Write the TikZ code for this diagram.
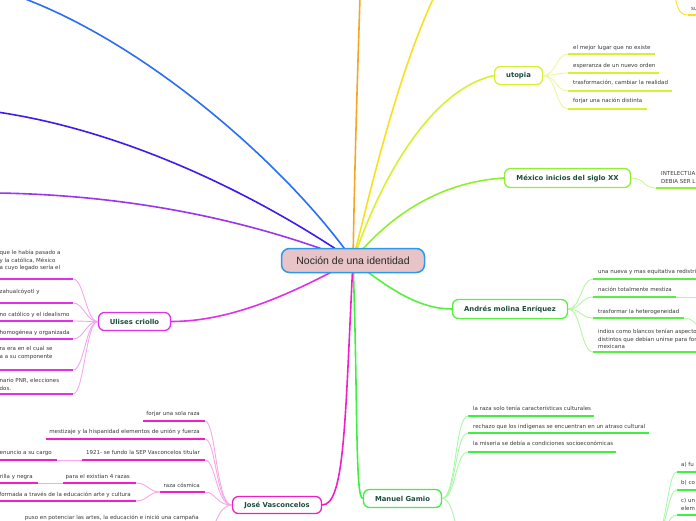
\documentclass[tikz,border=0pt]{standalone}
\usepackage{fontspec}
\setmainfont{DejaVu Sans}
\newfontfamily\titlefont{Liberation Sans}
\usetikzlibrary{backgrounds}
\definecolor{cUl}{HTML}{E030E8}
\definecolor{cUlc}{HTML}{F0A8F0}
\definecolor{cJo}{HTML}{F020C8}
\definecolor{cJoc}{HTML}{F8A8E4}
\definecolor{cMa}{HTML}{40F040}
\definecolor{cMac}{HTML}{A8F8A8}
\definecolor{cAn}{HTML}{58F040}
\definecolor{cAnc}{HTML}{B0F8A0}
\definecolor{cMx}{HTML}{90F030}
\definecolor{cMxc}{HTML}{C8F8A0}
\definecolor{cUt}{HTML}{D8F030}
\definecolor{cUtc}{HTML}{E8F8A0}
\definecolor{cYe}{HTML}{F8E020}
\definecolor{cOr}{HTML}{F5A623}
\definecolor{cBl}{HTML}{2B6DF5}
\definecolor{cIn}{HTML}{3C1CF0}
\definecolor{cPu}{HTML}{9A35F0}
\definecolor{lab}{HTML}{1D4D3D}
\definecolor{txt}{HTML}{383838}
\definecolor{cfill}{HTML}{E8C4C8}
\definecolor{cbord}{HTML}{2A9BE8}
\begin{document}
\begin{tikzpicture}[x=1pt,y=-1pt,
  lt/.style={anchor=north west, inner sep=0pt, align=left, text=txt,
    font=\fontsize{5.5}{7.5}\selectfont, execute at begin node=\strut},
  rt/.style={lt, anchor=north east, align=right},
  topic/.style={draw, fill=white, rounded corners=6pt, line width=1.3pt,
    font=\fontsize{6.85}{8}\selectfont\bfseries, text=lab, inner sep=0pt},
  hub/.style={draw=cbord, fill=cfill, line width=1.5pt, rounded corners=8pt,
    minimum width=143pt, minimum height=24pt, inner sep=0pt,
    font=\titlefont\fontsize{10.5}{12}\selectfont, text=black!85},
  ul/.style={line width=1.8pt},
  con/.style={line width=0.9pt},
  branch/.style={line width=1.6pt}]
\useasboundingbox (0,0) rectangle (696,520);
\clip (0,0) rectangle (696,520);

% ---------- hub and topics ----------
\node[hub] (c) at (353,260.5) {Noción de una identidad};
\node[topic, draw=cUl, minimum width=72pt, minimum height=18pt] (u) at (134.5,321.5) {Ulises criollo};
\node[topic, draw=cJo, minimum width=89pt, minimum height=17pt] (j) at (277,505) {José Vasconcelos};
\node[topic, draw=cMa, minimum width=78pt, minimum height=18pt] (m) at (402.5,498.5) {Manuel Gamio};
\node[topic, draw=cAn, minimum width=115pt, minimum height=19pt] (a) at (510,309) {Andrés molina Enríquez};
\node[topic, draw=cMx, minimum width=126pt, minimum height=19pt] (x) at (567.5,178) {México inicios del siglo XX};
\node[topic, draw=cUt, minimum width=48pt, minimum height=18pt] (t) at (518.5,75.5) {utopia};

% free ends of branches leaving the picture
\coordinate (eBl) at (20,-3);
\coordinate (eIn) at (-3,112);
\coordinate (ePu) at (-3,193);
\coordinate (eOr) at (360,-3);
\coordinate (eYe) at (434,-3);

\begin{scope}[on background layer]
\draw[branch, cBl] (c.center) .. controls (290,170) and (150,45) .. (eBl);
\draw[branch, cIn] (c.center) .. controls (250,190) and (120,130) .. (eIn);
\draw[branch, cPu] (c.center) .. controls (250,220) and (130,195) .. (ePu);
\draw[branch, cOr] (c.center) .. controls (355,150) and (358,60) .. (eOr);
\draw[branch, cYe] (c.center) .. controls (375,170) and (400,70) .. (eYe);
\draw[branch, cUt] (c.center) .. controls (380,180) and (430,90) .. (t.west);
\draw[branch, cMx] (c.center) .. controls (390,215) and (440,182) .. (x.west);
\draw[branch, cAn] (c.center) .. controls (390,290) and (420,309) .. (a.west);
\draw[branch, cMa] (c.center) .. controls (358,400) and (355,499) .. (m.west);
\draw[branch, cJo] (c.center) .. controls (345,420) and (345,505) .. (j.east);
\draw[branch, cUl] (c.center) .. controls (290,295) and (230,321.5) .. (u.east);
\end{scope}

% ---------- top right fragment ----------
\coordinate (ys1) at (675,-3);
\coordinate (ys2) at (688,15);
\draw[con, cYe] (ys1) .. controls (678,10) and (680,15) .. (ys2);
\draw[ul, cYe] (ys2) -- (700,15);
\node[lt] (y1) at (691,5.3) {su};

% ---------- utopia ----------
\node[lt] (t1) at (573,44.3) {el mejor lugar que no existe};
\node[lt] (t2) at (573,62.3) {esperanza de un nuevo orden};
\node[lt] (t3) at (573,79.3) {trasformación, cambiar la realidad};
\node[lt] (t4) at (573,97.3) {forjar una nación distinta};
\coordinate (t1s) at (568,54);  \draw[ul, cUt] (t1s) -- (655,54);
\coordinate (t2s) at (568,73);  \draw[ul, cUt] (t2s) -- (659,73);
\coordinate (t3s) at (568,91);  \draw[ul, cUt] (t3s) -- (672,91);
\coordinate (t4s) at (568,109); \draw[ul, cUt] (t4s) -- (647,109);
\foreach \k/\yy in {t1s/54, t2s/73, t3s/91, t4s/109}
  \draw[con, cUtc] (t.east) .. controls (556,75.5) and (556,\yy) .. (\k);

% ---------- México inicios ----------
\node[lt] (x1) at (661,171.3) {INTELECTUA\\DEBIA SER L};
\coordinate (x1s) at (656,188); \draw[ul, cMx] (x1s) -- (700,188);
\draw[con, cMxc] (x.east) .. controls (645,178) and (643,188) .. (x1s);

% ---------- Andrés molina Enríquez ----------
\node[lt] (a1) at (598,268.3) {una nueva y mas equitativa redistri};
\node[lt] (a2) at (598,286.3) {nación totalmente mestiza};
\node[lt] (a3) at (598,308.3) {trasformar la heterogeneidad};
\node[lt] (a4) at (598,329.3) {indios como blancos tenían aspectos\\distintos que debían unirse para for\\mexicana};
\coordinate (a1s) at (593,279); \draw[ul, cAn] (a1s) -- (700,279);
\coordinate (a2s) at (593,297); \coordinate (a2e) at (676,297); \draw[ul, cAn] (a2s) -- (a2e);
\coordinate (a3s) at (593,318); \coordinate (a3e) at (684,318); \draw[ul, cAn] (a3s) -- (a3e);
\coordinate (a4s) at (593,352); \draw[ul, cAn] (a4s) -- (700,352);
\foreach \k/\yy in {a1s/279, a2s/297, a3s/318, a4s/352}
  \draw[con, cAnc] (a.east) .. controls (581,309) and (581,\yy) .. (\k);
\coordinate (a2x) at (702,297);
\coordinate (a3x) at (704,330);
\draw[con, cAnc] (a2e) -- (a2x);
\draw[con, cAnc] (a3e) .. controls (692,318) and (694,323) .. (a3x);

% ---------- Manuel Gamio ----------
\node[lt] (m1) at (473,405.3) {la raza solo tenía características culturales};
\node[lt] (m2) at (473,423.3) {rechazo que los indígenas se encuentran en un atraso cultural};
\node[lt] (m3) at (473,440.3) {la miseria se debía a condiciones socioeconómicas};
\coordinate (m1s) at (468,416); \draw[ul, cMa] (m1s) -- (594,416);
\coordinate (m2s) at (468,433); \draw[ul, cMa] (m2s) -- (649,433);
\coordinate (m3s) at (468,452); \draw[ul, cMa] (m3s) -- (616,452);
\coordinate (m4s) at (470,548);
\foreach \k/\yy in {m1s/416, m2s/433, m3s/452, m4s/548}
  \draw[con, cMac] (m.east) .. controls (456,498.5) and (455,\yy) .. (\k);

% ---------- bottom right fragment ----------
\coordinate (bp) at (655,535);
\node[lt] (b1) at (681,461.3) {a) fu};
\node[lt] (b2) at (681,479.3) {b) co};
\node[lt] (b3) at (681,498.3) {c) un\\elem};
\coordinate (b1s) at (677,472); \draw[ul, cMa] (b1s) -- (700,472);
\coordinate (b2s) at (677,490); \draw[ul, cMa] (b2s) -- (700,490);
\coordinate (b3s) at (677,515); \draw[ul, cMa] (b3s) -- (700,515);
\foreach \k/\yy in {b1s/472, b2s/490, b3s/515}
  \draw[con, cMac] (bp) .. controls (667,535) and (667,\yy) .. (\k);

% ---------- Ulises criollo ----------
\node[lt] (u1) at (-0.5,250.3) {que le había pasado a\\y la católica, México\\a cuyo legado sería el};
\node[lt] (u2) at (-0.5,288.3) {zahualcóyotl y};
\node[lt] (u3) at (-0.5,311.3) {no católico y el idealismo};
\node[lt] (u4) at (-0.5,329.3) {homogénea y organizada};
\node[lt] (u5) at (-0.5,346.3) {ra era en el cual se\\a a su componente};
\node[lt] (u6) at (-0.5,378.3) {nario PNR, elecciones\\dos.};
\coordinate (u1e) at (73,279); \draw[ul, cUl] (-3,279) -- (u1e);
\coordinate (u2e) at (73,303); \draw[ul, cUl] (-3,303) -- (u2e);
\coordinate (u3e) at (73,321); \draw[ul, cUl] (-3,321) -- (u3e);
\coordinate (u4e) at (73,339); \draw[ul, cUl] (-3,339) -- (u4e);
\coordinate (u5e) at (73,370); \draw[ul, cUl] (-3,370) -- (u5e);
\coordinate (u6e) at (73,394); \draw[ul, cUl] (-3,394) -- (u6e);
\foreach \k/\yy in {u1e/279, u2e/303, u3e/321, u4e/339, u5e/370, u6e/394}
  \draw[con, cUlc] (u.west) .. controls (86,321.5) and (84,\yy) .. (\k);

% ---------- José Vasconcelos ----------
\node[rt] (j1) at (200,410.3) {forjar una sola raza};
\node[rt] (j2) at (200,428.3) {mestizaje y la hispanidad elementos de unión y fuerza};
\node[rt] (j3) at (200,449.3) {1921- se fundo la SEP Vasconcelos titular};
\node[rt] (j4) at (200,482.3) {raza cósmica};
\node[rt] (j5) at (199,514.3) {puso en potenciar las artes, la educación e inició una campaña};
\coordinate (j1e) at (205,421); \coordinate (j1s) at (143,421); \draw[ul, cJo] (j1s) -- (j1e);
\coordinate (j2e) at (205,439); \coordinate (j2s) at (46,439);  \draw[ul, cJo] (j2s) -- (j2e);
\coordinate (j3e) at (205,460); \coordinate (j3s) at (82,460);  \draw[ul, cJo] (j3s) -- (j3e);
\coordinate (j4e) at (205,492); \coordinate (j4s) at (160,492); \draw[ul, cJo] (j4s) -- (j4e);
\coordinate (j5e) at (205,534); \draw[ul, cJo] (20,534) -- (j5e);
\foreach \k/\yy in {j1e/421, j2e/439, j3e/460, j4e/492, j5e/534}
  \draw[con, cJoc] (j.west) .. controls (216,505) and (216,\yy) .. (\k);
% sub-leaves
\node[rt] (j3a) at (52,449.3) {enuncio a su cargo};
\coordinate (j3ae) at (57,460); \draw[ul, cJo] (-3,460) -- (j3ae);
\draw[con, cJoc] (j3s) -- (j3ae);
\node[rt] (j4a) at (130,473.3) {para el existían 4 razas};
\coordinate (j4ae) at (136,483); \coordinate (j4as) at (63,483); \draw[ul, cJo] (j4as) -- (j4ae);
\node[rt] (j4b) at (131,491.3) {formada a través de la educación arte y cultura};
\coordinate (j4be) at (136,501); \draw[ul, cJo] (-3,501) -- (j4be);
\draw[con, cJoc] (j4s) .. controls (148,492) and (148,483) .. (j4ae);
\draw[con, cJoc] (j4s) .. controls (148,492) and (148,501) .. (j4be);
\node[rt] (j4a1) at (33,473.3) {rilla y negra};
\coordinate (j4a1e) at (38,483); \draw[ul, cJo] (-3,483) -- (j4a1e);
\draw[con, cJoc] (j4as) -- (j4a1e);
\end{tikzpicture}
\end{document}
